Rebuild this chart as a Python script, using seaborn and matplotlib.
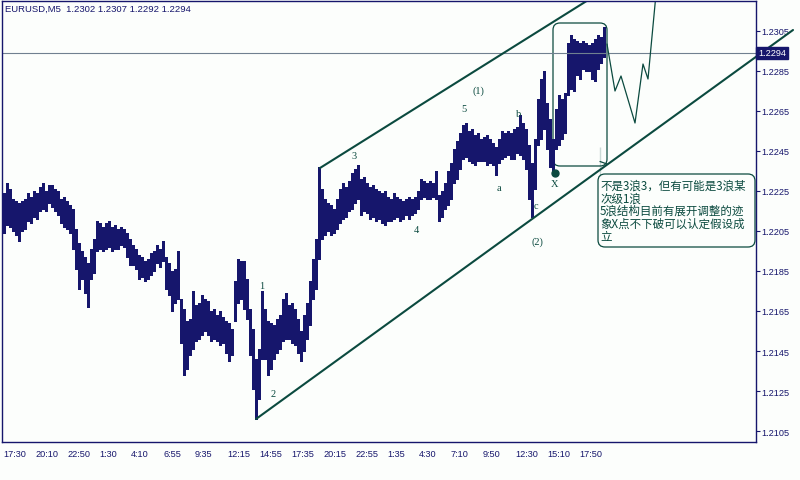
import numpy as np
import pandas as pd
import matplotlib.pyplot as plt
import seaborn as sns
from matplotlib.patches import FancyBboxPatch
from matplotlib.transforms import blended_transform_factory

# high / low of each 15 minute column (three M5 bars)
bar_high = [
    1.2224, 1.2229, 1.2226, 1.2221, 1.2220, 1.2219, 1.2220, 1.2221, 1.2224, 1.2222,
    1.2225, 1.2224, 1.2227, 1.2229, 1.2225, 1.2228, 1.2228, 1.2226, 1.2225, 1.2221,
    1.2222, 1.2220, 1.2218, 1.2216, 1.2206, 1.2199, 1.2195, 1.2192, 1.2189, 1.2196,
    1.2201, 1.2210, 1.2209, 1.2207, 1.2209, 1.2210, 1.2207, 1.2208, 1.2206, 1.2207,
    1.2206, 1.2204, 1.2201, 1.2198, 1.2196, 1.2193, 1.2192, 1.2190, 1.2191, 1.2194,
    1.2195, 1.2198, 1.2196, 1.2200, 1.2192, 1.2189, 1.2185, 1.2186, 1.2195, 1.2171,
    1.2166, 1.2160, 1.2161, 1.2175, 1.2168, 1.2169, 1.2173, 1.2171, 1.2170, 1.2165,
    1.2166, 1.2163, 1.2165, 1.2162, 1.2160, 1.2159, 1.2156, 1.2180, 1.2191, 1.2190,
    1.2190, 1.2181, 1.2166, 1.2156, 1.2141, 1.2146, 1.2175, 1.2166, 1.2160, 1.2159,
    1.2158, 1.2161, 1.2163, 1.2171, 1.2174, 1.2168, 1.2169, 1.2166, 1.2161, 1.2155,
    1.2163, 1.2169, 1.2180, 1.2191, 1.2201, 1.2237, 1.2226, 1.2221, 1.2219, 1.2218,
    1.2216, 1.2221, 1.2226, 1.2229, 1.2227, 1.2230, 1.2234, 1.2236, 1.2238, 1.2231,
    1.2232, 1.2229, 1.2227, 1.2228, 1.2226, 1.2225, 1.2224, 1.2225, 1.2222, 1.2221,
    1.2224, 1.2222, 1.2221, 1.2220, 1.2221, 1.2222, 1.2221, 1.2222, 1.2225, 1.2231,
    1.2230, 1.2229, 1.2230, 1.2229, 1.2235, 1.2223, 1.2225, 1.2229, 1.2235, 1.2239,
    1.2246, 1.2250, 1.2254, 1.2258, 1.2259, 1.2255, 1.2256, 1.2253, 1.2254, 1.2251,
    1.2252, 1.2253, 1.2251, 1.2249, 1.2247, 1.2251, 1.2255, 1.2254, 1.2255, 1.2254,
    1.2256, 1.2257, 1.2263, 1.2259, 1.2256, 1.2248, 1.2239, 1.2251, 1.2271, 1.2281,
    1.2285, 1.2269, 1.2261, 1.2251, 1.2266, 1.2273, 1.2271, 1.2274, 1.2299, 1.2303,
    1.2301, 1.2300, 1.2299, 1.2300, 1.2299, 1.2298, 1.2299, 1.2301, 1.2303, 1.2302,
    1.2307,
]
bar_low = [
    1.2204, 1.2208, 1.2207, 1.2205, 1.2203, 1.2200, 1.2205, 1.2206, 1.2210, 1.2209,
    1.2212, 1.2211, 1.2215, 1.2216, 1.2215, 1.2219, 1.2217, 1.2215, 1.2213, 1.2209,
    1.2207, 1.2206, 1.2204, 1.2196, 1.2186, 1.2176, 1.2181, 1.2174, 1.2167, 1.2181,
    1.2184, 1.2195, 1.2196, 1.2195, 1.2196, 1.2197, 1.2195, 1.2196, 1.2196, 1.2198,
    1.2197, 1.2192, 1.2188, 1.2188, 1.2186, 1.2181, 1.2182, 1.2180, 1.2181, 1.2183,
    1.2185, 1.2189, 1.2187, 1.2190, 1.2176, 1.2173, 1.2165, 1.2169, 1.2171, 1.2149,
    1.2133, 1.2136, 1.2143, 1.2146, 1.2150, 1.2151, 1.2153, 1.2155, 1.2153, 1.2150,
    1.2151, 1.2150, 1.2148, 1.2149, 1.2144, 1.2140, 1.2143, 1.2160, 1.2169, 1.2171,
    1.2166, 1.2161, 1.2143, 1.2126, 1.2111, 1.2121, 1.2141, 1.2141, 1.2133, 1.2136,
    1.2141, 1.2144, 1.2146, 1.2150, 1.2151, 1.2151, 1.2149, 1.2148, 1.2144, 1.2140,
    1.2145, 1.2151, 1.2158, 1.2171, 1.2176, 1.2191, 1.2201, 1.2203, 1.2205, 1.2203,
    1.2204, 1.2206, 1.2209, 1.2211, 1.2212, 1.2215, 1.2216, 1.2219, 1.2221, 1.2213,
    1.2215, 1.2214, 1.2211, 1.2212, 1.2210, 1.2211, 1.2209, 1.2208, 1.2210, 1.2210,
    1.2211, 1.2212, 1.2210, 1.2211, 1.2213, 1.2211, 1.2213, 1.2214, 1.2216, 1.2221,
    1.2222, 1.2221, 1.2221, 1.2222, 1.2221, 1.2210, 1.2212, 1.2216, 1.2218, 1.2221,
    1.2229, 1.2231, 1.2236, 1.2241, 1.2242, 1.2240, 1.2239, 1.2238, 1.2240, 1.2240,
    1.2240, 1.2238, 1.2239, 1.2238, 1.2233, 1.2239, 1.2241, 1.2242, 1.2243, 1.2241,
    1.2241, 1.2244, 1.2243, 1.2241, 1.2236, 1.2221, 1.2212, 1.2226, 1.2248, 1.2251,
    1.2256, 1.2246, 1.2237, 1.2235, 1.2246, 1.2248, 1.2251, 1.2254, 1.2273, 1.2276,
    1.2275, 1.2283, 1.2281, 1.2286, 1.2285, 1.2285, 1.2281, 1.2280, 1.2286, 1.2289,
    1.2292,
]

time_labels = ["17:30", "20:10", "22:50", "1:30", "4:10", "6:55", "9:35", "12:15",
               "14:55", "17:35", "20:15", "22:55", "1:35", "4:30", "7:10", "9:50",
               "12:30", "15:10", "17:50"]
price_ticks = [1.2105, 1.2125, 1.2145, 1.2165, 1.2185, 1.2205, 1.2225, 1.2245,
               1.2265, 1.2285, 1.2305]
header = "EURUSD,M5  1.2302 1.2307 1.2292 1.2294"
last_price = 1.2294

# Elliott wave marks: text, bar index, price
wave_text = ["1", "2", "3", "4", "5", "(1)", "a", "b", "c", "(2)", "X"]
wave_bar = [259, 270, 351, 413, 461, 475, 496, 516, 533, 534, 552]
wave_price = [1.21775, 1.21235, 1.22425, 1.22055, 1.2266, 1.22755, 1.22265,
              1.22635, 1.22175, 1.2200, 1.22285]
x_point_bar, x_point_price = 552, 1.2234

# channel lines and projected path
upper_bar, upper_price = [317, 590], [1.22365, 1.2322]
lower_bar, lower_price = [253, 790], [1.2111, 1.23055]
path_bar = [604, 612, 618, 632, 640, 645, 653]
path_price = [1.22985, 1.2275, 1.22825, 1.2259, 1.22885, 1.2281, 1.23235]

# boxes: (bar from, bar to, price low, price high)
wave_box = (550, 604, 1.22375, 1.2309)
note_box = (595, 752, 1.2197, 1.22335)
pointer_bar, pointer_price = [597, 597, 604], [1.22325, 1.2247, 1.22385]
note_lines = ["不是3浪3，但有可能是3浪某", "次级1浪", "5浪结构目前有展开调整的迹",
              "象X点不下破可以认定假设成", "立"]
note_top = 1.22313

BG = "#fcfefc"
NAVY = "#16166c"
GREEN = "#0b4a3f"

sns.set_style("white")
plt.rcParams["font.family"] = ["Liberation Sans", "DejaVu Sans"]

fig = plt.figure(figsize=(8, 4.81), dpi=100, facecolor=BG)
ax = fig.add_axes([2 / 800, 38 / 481, 754 / 800, 441 / 481])
ax.set_facecolor(BG)

bars = pd.DataFrame({"high": bar_high, "low": bar_low})
bars["pos"] = np.arange(len(bars)) * 3 + 1
ax.vlines(bars["pos"], bars["low"], bars["high"], colors=NAVY,
          linewidth=2.16, antialiased=False)

ax.axhline(last_price, color="#708090", linewidth=0.8)

sns.lineplot(x=upper_bar, y=upper_price, ax=ax, color=GREEN, linewidth=1.5, sort=False)
sns.lineplot(x=lower_bar, y=lower_price, ax=ax, color=GREEN, linewidth=1.5, sort=False)
ax.lines[-1].set_clip_on(False)
sns.lineplot(x=path_bar, y=path_price, ax=ax, color=GREEN, linewidth=0.9, sort=False)
sns.lineplot(x=pointer_bar, y=pointer_price, ax=ax, color=GREEN, linewidth=0.9, sort=False)

for b0, b1, p0, p1 in [wave_box, note_box]:
    ax.add_patch(FancyBboxPatch((b0, p0), b1 - b0, p1 - p0,
                                boxstyle="round,pad=0,rounding_size=7",
                                mutation_aspect=0.00005, facecolor="none",
                                edgecolor=GREEN, linewidth=0.9))

ax.plot([x_point_bar], [x_point_price], "o", color=GREEN, markersize=5)

for t, b, p in zip(wave_text, wave_bar, wave_price):
    ax.text(b, p, t, color=GREEN, fontsize=7.5, ha="center", va="center",
            family=["Liberation Serif", "DejaVu Serif"])

ax.text(note_box[0] + 2, note_top, "\n".join(note_lines), color=GREEN,
        fontsize=8.3, ha="left", va="top", linespacing=0.98,
        family=["Noto Sans CJK SC", "DejaVu Sans"])

ax.set_xlim(-1, 753)
ax.set_ylim(1.20995, 1.2320)

ax.set_xticks(np.arange(len(time_labels)) * 32)
ax.set_xticklabels(time_labels, ha="left")
ax.yaxis.tick_right()
ax.set_yticks(price_ticks)
ax.set_yticklabels([f"{p:.4f}" for p in price_ticks])
ax.tick_params(axis="both", direction="out", length=3, width=0.8, colors=NAVY,
               labelsize=6.6, pad=1)
ax.tick_params(axis="x", pad=2)
for s in ax.spines.values():
    s.set_color(NAVY)
    s.set_linewidth(1.0)

tr = blended_transform_factory(ax.transAxes, ax.transData)
ax.text(1.003, last_price, f"{last_price:.4f}", transform=tr, color="white",
        fontsize=6.6, ha="left", va="center",
        bbox=dict(boxstyle="square,pad=0.2", facecolor=NAVY, edgecolor=NAVY))

ax.text(3 / 754, 1 - 3 / 441, header, transform=ax.transAxes, color=NAVY,
        fontsize=6.8, ha="left", va="top")

fig.savefig("out.png", dpi=100, facecolor=BG)
